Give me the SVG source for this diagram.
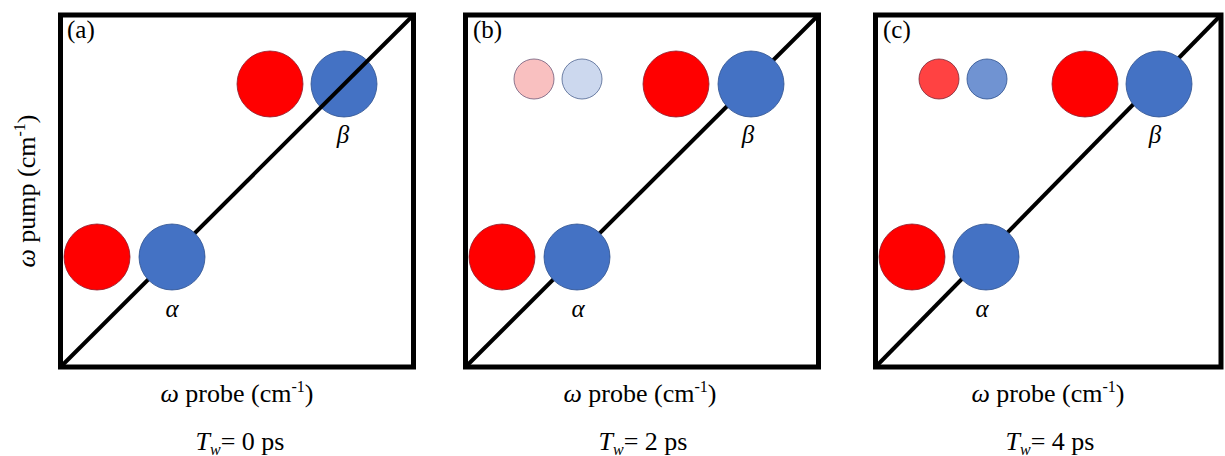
<svg xmlns="http://www.w3.org/2000/svg" width="1225" height="456" viewBox="0 0 1225 456">
<style>
  .frame { fill: #ffffff; stroke: #000000; stroke-width: 5; }
  .diag { stroke: #000000; stroke-width: 4; fill: none; }
  .red { fill: #FF0000; stroke: #8E1B2B; stroke-width: 0.8; }
  .blue { fill: #4472C4; stroke: #2F528F; stroke-width: 0.8; }
  .red25 { fill: #F9C0C0; stroke: #6E5A7A; stroke-width: 0.8; }
  .blue25 { fill: #CCD8EE; stroke: #4F6590; stroke-width: 0.8; }
  .red75 { fill: #FF4242; stroke: #7A2A3A; stroke-width: 0.8; }
  .blue75 { fill: #7093D2; stroke: #2F528F; stroke-width: 0.8; }
  text { font-family: "Liberation Serif", Tinos, "Times New Roman", Times, "Noto Serif", "Nimbus Roman", FreeSerif, "DejaVu Serif", serif; font-size: 26px; fill: #000000; }
  .tag { font-size: 25px; }
  .greek { font-style: italic; font-size: 25px; }
  .it { font-style: italic; }
  .mid { text-anchor: middle; }
</style>
<rect x="0" y="0" width="1225" height="456" fill="#ffffff"/>

<g id="panel-a">
  <rect class="frame" x="60.5" y="15" width="353" height="352"/>
  <circle class="red" cx="97" cy="257" r="33"/>
  <circle class="red" cx="270" cy="84" r="33"/>
  <circle class="blue" cx="344" cy="84" r="33"/>
  <line class="diag" x1="60.5" y1="367" x2="413.5" y2="15"/>
  <circle class="blue" cx="172" cy="257" r="33"/>
  <text class="tag" x="67" y="38">(a)</text>
  <text class="greek mid" x="343" y="143">β</text>
  <text class="greek mid" x="172" y="317">α</text>
</g>

<g id="panel-b">
  <rect class="frame" x="465.5" y="15" width="353" height="352"/>
  <line class="diag" x1="465.5" y1="367" x2="818.5" y2="15"/>
  <circle class="red25" cx="534" cy="79" r="20"/>
  <circle class="blue25" cx="582" cy="79" r="20"/>
  <circle class="red" cx="676" cy="84" r="33"/>
  <circle class="blue" cx="751" cy="84" r="33"/>
  <circle class="red" cx="502" cy="257" r="33"/>
  <circle class="blue" cx="577" cy="257" r="33"/>
  <text class="tag" x="473" y="38">(b)</text>
  <text class="greek mid" x="748" y="143">β</text>
  <text class="greek mid" x="578" y="317">α</text>
</g>

<g id="panel-c">
  <rect class="frame" x="875.5" y="15" width="345.5" height="352"/>
  <line class="diag" x1="875.5" y1="367" x2="1221" y2="15"/>
  <circle class="red75" cx="939" cy="79" r="20"/>
  <circle class="blue75" cx="987" cy="79" r="20"/>
  <circle class="red" cx="1085" cy="84" r="33"/>
  <circle class="blue" cx="1159" cy="84" r="33"/>
  <circle class="red" cx="912" cy="257" r="33"/>
  <circle class="blue" cx="986" cy="257" r="33"/>
  <text class="tag" x="883" y="38">(c)</text>
  <text class="greek mid" x="1155" y="143">β</text>
  <text class="greek mid" x="982" y="317">α</text>
</g>

<g id="y-axis-label">
  <text class="mid" transform="translate(35,191) rotate(-90)"><tspan class="it">ω</tspan> pump (cm<tspan font-size="16" dy="-10">-1</tspan><tspan dy="10">)</tspan></text>
</g>

<g id="x-axis-labels">
  <text class="mid" x="237" y="402"><tspan class="it">ω</tspan> probe (cm<tspan font-size="16" dy="-10">-1</tspan><tspan dy="10">)</tspan></text>
  <text class="mid" x="640" y="402"><tspan class="it">ω</tspan> probe (cm<tspan font-size="16" dy="-10">-1</tspan><tspan dy="10">)</tspan></text>
  <text class="mid" x="1048" y="402"><tspan class="it">ω</tspan> probe (cm<tspan font-size="16" dy="-10">-1</tspan><tspan dy="10">)</tspan></text>
</g>

<g id="time-labels">
  <text class="mid" x="240" y="450"><tspan class="it">T</tspan><tspan class="it" font-size="16" dy="5">w</tspan><tspan dy="-5">= 0 ps</tspan></text>
  <text class="mid" x="643" y="450"><tspan class="it">T</tspan><tspan class="it" font-size="16" dy="5">w</tspan><tspan dy="-5">= 2 ps</tspan></text>
  <text class="mid" x="1050" y="450"><tspan class="it">T</tspan><tspan class="it" font-size="16" dy="5">w</tspan><tspan dy="-5">= 4 ps</tspan></text>
</g>
</svg>
